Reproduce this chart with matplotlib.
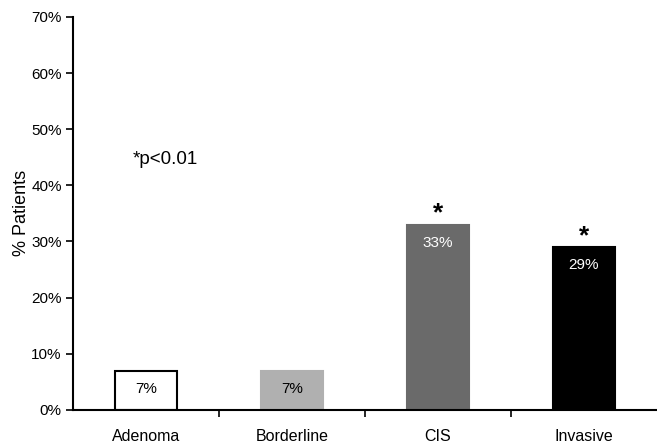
import matplotlib.pyplot as plt
import numpy as np

plt.rcParams['font.family'] = ['Liberation Sans', 'DejaVu Sans']

categories = ["Adenoma", "Borderline", "CIS", "Invasive"]
values = [7, 7, 33, 29]
labels = ["7%", "7%", "33%", "29%"]
significant = [False, False, True, True]
bar_colors = ["white", "#b0b0b0", "#6a6a6a", "black"]
edge_colors = ["black", "#b0b0b0", "#6a6a6a", "black"]
text_colors = ["black", "black", "white", "white"]

fig = plt.figure(figsize=(6.57, 4.46), dpi=100)
ax = fig.add_axes([0.111, 0.081, 0.889, 0.881])

x = np.arange(len(categories))
ax.bar(x, values, width=0.42, color=bar_colors, edgecolor=edge_colors, linewidth=1.5)

# value labels inside the bars, stars above the significant ones
for i, v in enumerate(values):
    ax.text(x[i], v - 3.2, labels[i], ha="center", va="center", fontsize=11, color=text_colors[i])
    if significant[i]:
        ax.text(x[i], v + 2.0, "*", ha="center", va="center", fontsize=19,
                fontweight="bold", color="black")

ax.text(-0.09, 44.6, "*p<0.01", ha="left", va="center", fontsize=13.5)

ax.set_xlim(-0.5, 3.5)
ax.set_ylim(0, 70)
ax.set_yticks(np.arange(0, 71, 10))
ax.set_yticklabels([f"{t}%" for t in range(0, 71, 10)], fontsize=11)
ax.set_xticks(x)
ax.set_xticklabels(categories, fontsize=11.5)
ax.tick_params(axis="x", which="major", length=0, pad=14)
ax.set_xticks(x[:-1] + 0.5, minor=True)
ax.tick_params(axis="x", which="minor", length=5, width=1.2, direction="out")
ax.tick_params(axis="y", length=5, width=1.2, direction="out", pad=3)
ax.set_ylabel("% Patients", fontsize=13, labelpad=1)

for s in ["top", "right"]:
    ax.spines[s].set_visible(False)
ax.spines["left"].set_linewidth(1.5)
ax.spines["bottom"].set_linewidth(1.5)

fig.savefig("out.png", dpi=100)
